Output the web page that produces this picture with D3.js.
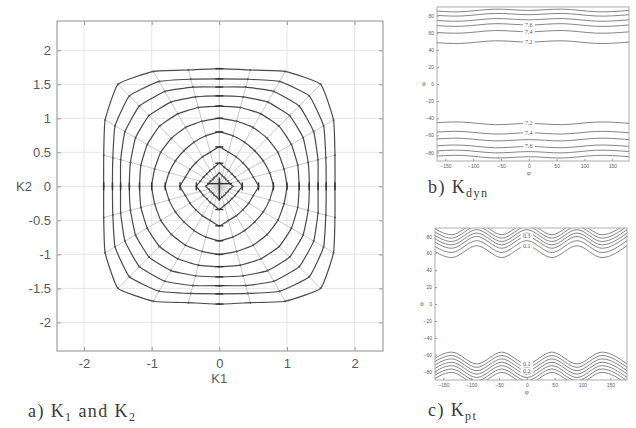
<!DOCTYPE html>
<html>
<head>
<meta charset="utf-8">
<script src="https://cdn.jsdelivr.net/npm/d3@7/dist/d3.min.js"></script>
<style>
  body { margin: 0; background: #fff; }
  svg { display: block; }
</style>
</head>
<body>
<div id="my_dataviz"></div>
<script>
// ---- panel a data: contour radius read on the 15 deg spokes of one quadrant (0..90 deg)
var spokeAngles = [0, 15, 30, 45, 60, 75, 90];
var kContours = [
  [0.20, 0.16, 0.15, 0.14, 0.15, 0.16, 0.20],
  [0.34, 0.29, 0.27, 0.26, 0.27, 0.29, 0.34],
  [0.58, 0.52, 0.50, 0.49, 0.50, 0.52, 0.58],
  [0.80, 0.77, 0.75, 0.74, 0.75, 0.77, 0.80],
  [1.00, 0.99, 1.00, 1.00, 1.00, 0.99, 1.00],
  [1.18, 1.20, 1.23, 1.25, 1.23, 1.20, 1.18],
  [1.33, 1.36, 1.43, 1.47, 1.43, 1.36, 1.33],
  [1.46, 1.51, 1.61, 1.67, 1.61, 1.51, 1.46],
  [1.58, 1.63, 1.78, 1.88, 1.78, 1.63, 1.58],
  [1.71, 1.77, 1.95, 2.12, 1.95, 1.77, 1.73]
];
var k1Ticks = [-2, -1, 0, 1, 2];
var k2Ticks = [-2, -1.5, -1, -0.5, 0, 0.5, 1, 1.5, 2];

// ---- panels b and c: phi / theta axes
var phiTicks = [-150, -100, -50, 0, 50, 100, 150];
var thetaTicks = [-80, -60, -40, -20, 0, 20, 40, 60, 80];

// b) K_dyn : theta of each contour line, wave read at phi knots
var dynKnots = [-180, -120, -60, 0, 60, 120, 180];
var dynWave = [0, 1, -1, 0, -1, 1, 0];
var dynTop = [86, 81, 75, 69, 61, 49];
var dynBottom = [-46, -57, -65, -73, -79, -85];
var dynLabels = [
  { text: "7.6", line: 3, grp: "top" },
  { text: "7.4", line: 4, grp: "top" },
  { text: "7.2", line: 5, grp: "top" },
  { text: "7.2", line: 0, grp: "bottom" },
  { text: "7.4", line: 1, grp: "bottom" },
  { text: "7.6", line: 3, grp: "bottom" }
];

// c) K_pt
var ptKnots = [-180, -135, -90, -45, 0, 45, 90, 135, 180];
var ptWave = [-1, 1, -1, 1, -1, 1, -1, 1, -1];
var ptTop = [89, 85, 81, 77, 73, 68, 62];
var ptBottom = [-64, -68, -72, -76, -80, -84, -88];
var ptLabels = [
  { text: "0.3", line: 4, grp: "top" },
  { text: "0.1", line: 6, grp: "top" },
  { text: "0.1", line: 0, grp: "bottom" },
  { text: "0.2", line: 2, grp: "bottom" }
];

var svg = d3.select("#my_dataviz")
  .append("svg")
    .attr("width", 636)
    .attr("height", 428);

var ink = "#4a4a4a";
var sans = "'Liberation Sans', Arial, sans-serif";
var serif = "'Liberation Serif', 'Times New Roman', serif";

// ================= panel a
var x = d3.scaleLinear().domain([-2.4, 2.42]).range([57, 383]);
var y = d3.scaleLinear().domain([-2.42, 2.43]).range([351, 21]);
var ga = svg.append("g");

ga.append("g").selectAll("line").data(k2Ticks).enter().append("line")
  .attr("x1", x.range()[0]).attr("x2", x.range()[1])
  .attr("y1", function(d) { return y(d) }).attr("y2", function(d) { return y(d) })
  .attr("stroke", "#e0e0e0").attr("stroke-width", 0.8);
ga.append("g").selectAll("line").data(k1Ticks).enter().append("line")
  .attr("y1", y.range()[0]).attr("y2", y.range()[1])
  .attr("x1", function(d) { return x(d) }).attr("x2", function(d) { return x(d) })
  .attr("stroke", "#e0e0e0").attr("stroke-width", 0.8);

function styleAxis(g, size) {
  g.select(".domain").remove();
  g.selectAll(".tick line").attr("stroke", "#999");
  g.selectAll(".tick text").attr("fill", "#5a5a5a").style("font-family", sans).style("font-size", size + "px");
}
var fmt = function(d) { return String(d) };

ga.append("g").attr("transform", "translate(0," + y.range()[0] + ")")
  .call(d3.axisBottom(x).tickValues(k1Ticks).tickFormat(fmt).tickSizeInner(-4).tickSizeOuter(0).tickPadding(8))
  .call(styleAxis, 13);
ga.append("g").attr("transform", "translate(0," + y.range()[1] + ")")
  .call(d3.axisTop(x).tickValues(k1Ticks).tickFormat("").tickSizeInner(-4).tickSizeOuter(0))
  .call(styleAxis, 13);
ga.append("g").attr("transform", "translate(" + x.range()[0] + ",0)")
  .call(d3.axisLeft(y).tickValues(k2Ticks).tickFormat(fmt).tickSizeInner(-4).tickSizeOuter(0).tickPadding(6))
  .call(styleAxis, 13);
ga.append("g").attr("transform", "translate(" + x.range()[1] + ",0)")
  .call(d3.axisRight(y).tickValues(k2Ticks).tickFormat("").tickSizeInner(-4).tickSizeOuter(0))
  .call(styleAxis, 13);

ga.append("rect")
  .attr("x", x.range()[0]).attr("y", y.range()[1])
  .attr("width", x.range()[1] - x.range()[0]).attr("height", y.range()[0] - y.range()[1])
  .attr("fill", "none").attr("stroke", "#a8a8a8").attr("stroke-width", 1.3);

// full circle of spoke angles from the quadrant by symmetry
var allAngles = [];
[0, 90, 180, 270].forEach(function(q) {
  spokeAngles.slice(0, 6).forEach(function(a) { allAngles.push(q + a) });
});
function radiusAt(row, deg) {
  var a = deg % 180;
  if (a > 90) a = 180 - a;
  return row[spokeAngles.indexOf(a)];
}
function pointAt(row, deg) {
  var r = radiusAt(row, deg), t = deg * Math.PI / 180;
  return [x(r * Math.cos(t)), y(r * Math.sin(t))];
}

var outer = kContours[kContours.length - 1];
ga.append("g").selectAll("line").data(allAngles).enter().append("line")
  .attr("x1", x(0)).attr("y1", y(0))
  .attr("x2", function(d) { return pointAt(outer, d)[0] })
  .attr("y2", function(d) { return pointAt(outer, d)[1] })
  .attr("stroke", "#c4c4c4").attr("stroke-width", 0.9);

var ring = d3.line().curve(d3.curveCardinalClosed.tension(0.6));
ga.append("g").selectAll("path").data(kContours).enter().append("path")
  .attr("d", function(row) { return ring(allAngles.map(function(a) { return pointAt(row, a) })) })
  .attr("fill", "none").attr("stroke", ink).attr("stroke-width", 1.2);

ga.append("g").selectAll("circle")
  .data(kContours.flatMap(function(row) { return allAngles.map(function(a) { return pointAt(row, a) }) }))
  .enter().append("circle")
  .attr("cx", function(d) { return d[0] }).attr("cy", function(d) { return d[1] })
  .attr("r", 1).attr("fill", "#555");

// bars where the contours cross the K1 / K2 axes
var crossings = [];
kContours.slice(1).forEach(function(row) {
  [0, 90, 180, 270].forEach(function(a) { crossings.push({ a: a, p: pointAt(row, a) }) });
});
ga.append("g").selectAll("line").data(crossings).enter().append("line")
  .attr("x1", function(d) { return d.a % 180 == 0 ? d.p[0] : d.p[0] - 4 })
  .attr("x2", function(d) { return d.a % 180 == 0 ? d.p[0] : d.p[0] + 4 })
  .attr("y1", function(d) { return d.a % 180 == 0 ? d.p[1] - 4 : d.p[1] })
  .attr("y2", function(d) { return d.a % 180 == 0 ? d.p[1] + 4 : d.p[1] })
  .attr("stroke", "#333").attr("stroke-width", 1.4);

ga.append("line").attr("x1", x(-0.18)).attr("x2", x(0.19)).attr("y1", y(0.04)).attr("y2", y(0.04))
  .attr("stroke", "#333").attr("stroke-width", 1.4);
ga.append("line").attr("x1", x(0)).attr("x2", x(0)).attr("y1", y(0.13)).attr("y2", y(-0.2))
  .attr("stroke", "#333").attr("stroke-width", 1.6);

ga.append("text").attr("x", x(0)).attr("y", 383).attr("text-anchor", "middle")
  .style("font-family", sans).style("font-size", "13px").attr("fill", "#5a5a5a").text("K1");
ga.append("text").attr("x", 16).attr("y", y(0) + 5)
  .style("font-family", sans).style("font-size", "13px").attr("fill", "#5a5a5a").text("K2");

function caption(g, px, py, pre, sub1, mid, sub2) {
  var t = g.append("text").attr("x", px).attr("y", py)
    .style("font-family", serif).style("font-size", "18px").style("letter-spacing", "1.4px").attr("fill", "#3a3a3a");
  t.append("tspan").text(pre);
  t.append("tspan").attr("font-size", "12px").attr("dy", 4).text(sub1);
  if (mid) {
    t.append("tspan").attr("dy", -4).text(mid);
    t.append("tspan").attr("font-size", "12px").attr("dy", 4).text(sub2);
  }
}
caption(ga, 28, 417, "a) K", "1", " and K", "2");

// ================= panels b and c
function contourPanel(box, knots, wave, amp, topLv, botLv, labels, curve) {
  var px = d3.scaleLinear().domain([-165, 180]).range([box.x0, box.x1]);
  var py = d3.scaleLinear().domain([-90, 90]).range([box.y1, box.y0]);
  var g = svg.append("g");
  var clipId = "clip" + box.id;
  g.append("clipPath").attr("id", clipId).append("rect")
    .attr("x", box.x0).attr("y", box.y0).attr("width", box.x1 - box.x0).attr("height", box.y1 - box.y0);

  var lines = [];
  topLv.forEach(function(lv, i) { lines.push({ grp: "top", i: i, lv: lv, s: -1 }) });
  botLv.forEach(function(lv, i) { lines.push({ grp: "bottom", i: i, lv: lv, s: 1 }) });
  var path = d3.line().curve(curve)
    .x(function(d) { return px(d[0]) }).y(function(d) { return py(d[1]) });
  g.append("g").attr("clip-path", "url(#" + clipId + ")")
    .selectAll("path").data(lines).enter().append("path")
    .attr("d", function(l) { return path(knots.map(function(k, j) { return [k, l.lv + l.s * amp * wave[j]] })) })
    .attr("fill", "none").attr("stroke", "#666").attr("stroke-width", 0.8);

  var lab = g.append("g").selectAll("g").data(labels).enter().append("g")
    .attr("transform", function(d) {
      var l = lines.filter(function(m) { return m.grp == d.grp && m.i == d.line })[0];
      var w = wave[knots.indexOf(0)];
      return "translate(" + px(0) + "," + py(l.lv + l.s * amp * w) + ")";
    });
  lab.append("rect").attr("x", -6).attr("y", -3).attr("width", 12).attr("height", 6).attr("fill", "#fff");
  lab.append("text").attr("text-anchor", "middle").attr("y", 2)
    .style("font-family", serif).style("font-size", "6px").attr("fill", "#555")
    .text(function(d) { return d.text });

  g.append("g").attr("transform", "translate(0," + box.y1 + ")")
    .call(d3.axisBottom(px).tickValues(phiTicks).tickSizeInner(-2).tickSizeOuter(0).tickPadding(3))
    .call(styleAxis, 5);
  g.append("g").attr("transform", "translate(" + box.x0 + ",0)")
    .call(d3.axisLeft(py).tickValues(thetaTicks).tickSizeInner(-2).tickSizeOuter(0).tickPadding(3))
    .call(styleAxis, 5);
  g.append("rect").attr("x", box.x0).attr("y", box.y0)
    .attr("width", box.x1 - box.x0).attr("height", box.y1 - box.y0)
    .attr("fill", "none").attr("stroke", "#999").attr("stroke-width", 0.8);
  g.append("text").attr("x", px(0)).attr("y", box.y1 + 14).attr("text-anchor", "middle")
    .style("font-family", serif).style("font-size", "7px").attr("fill", "#555").text("φ");
  g.append("text").attr("x", box.x0 - 13).attr("y", py(0) + 2).attr("text-anchor", "middle")
    .style("font-family", serif).style("font-size", "7px").attr("fill", "#555").text("θ");
  return g;
}

var gb = contourPanel({ id: "b", x0: 437, x1: 629, y0: 7, y1: 161 },
  dynKnots, dynWave, 1.5, dynTop, dynBottom, dynLabels, d3.curveNatural);
caption(gb, 428, 193, "b) K", "dyn");

var gc = contourPanel({ id: "c", x0: 435, x1: 627, y0: 228, y1: 380 },
  ptKnots, ptWave, 7, ptTop, ptBottom, ptLabels, d3.curveMonotoneX);
caption(gc, 428, 416, "c) K", "pt");
</script>
</body>
</html>
